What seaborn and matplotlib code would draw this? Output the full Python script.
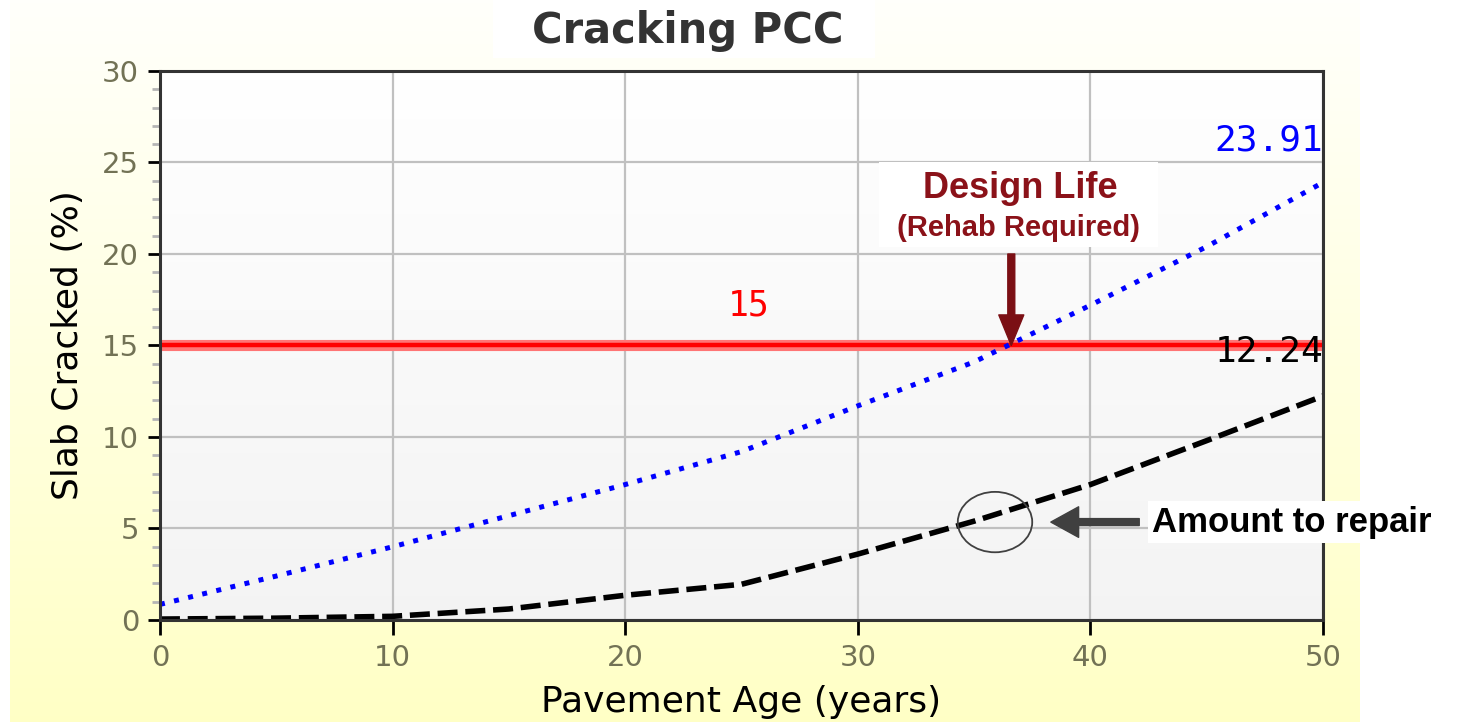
import numpy as np
import pandas as pd
import seaborn as sns
import matplotlib.pyplot as plt
from matplotlib.patches import Rectangle, Ellipse

# Dados
idade = [0, 5, 10, 15, 20, 25, 30, 35, 40, 45, 50]
trinca_confiab = [0.85, 2.4, 4.0, 5.7, 7.4, 9.2, 11.7, 14.1, 17.2, 20.4, 23.91]
trinca_media = [0.05, 0.1, 0.2, 0.6, 1.35, 1.95, 3.6, 5.4, 7.4, 9.8, 12.24]
limite = 15
vida_projeto = 36.6
reparo_idade = 35.9
reparo_valor = 5.35

df = pd.DataFrame({'idade': idade, 'confiab': trinca_confiab, 'media': trinca_media})

sns.set_style('white')
plt.rcParams['font.family'] = ['DejaVu Sans']

fig = plt.figure(figsize=(14.58, 7.22), dpi=100)

# fundo amarelo degradê
bg = fig.add_axes([0, 0, 1, 1], zorder=-10)
bg.axis('off')
grad = np.linspace(0, 1, 256)
cores = np.ones((256, 1, 3))
cores[:, 0, 2] = 0.985 - 0.21 * grad
bg.imshow(cores, extent=[10, 1360, 722, 0], aspect='auto')
bg.add_patch(Rectangle((493, 0), 382, 58, facecolor='white', edgecolor='none'))
bg.text(688, 31, 'Cracking PCC', ha='center', va='center', fontsize=30,
        fontweight='bold', color='#333333')
bg.set_xlim(0, 1458)
bg.set_ylim(722, 0)

ax = fig.add_axes([0.1097, 0.1413, 0.7977, 0.7604])
ax.set_facecolor('none')

# degradê da área do gráfico
g = np.linspace(1.0, 0.955, 256).reshape(-1, 1)
ax.imshow(np.dstack([g, g, g]), extent=[0, 50, 0, 30], aspect='auto', zorder=0)

ax.axhline(limite, color='#ff7575', lw=8, zorder=2)
ax.axhline(limite, color='#ff0000', lw=3.2, zorder=2.1)

sns.lineplot(data=df, x='idade', y='confiab', ax=ax, color='#0000ff', lw=3.6,
             linestyle=(0, (1, 1.9)), zorder=3)
sns.lineplot(data=df, x='idade', y='media', ax=ax, color='black', lw=4,
             linestyle=(0, (3.6, 1.4)), zorder=3)

ax.set_xlim(0, 50)
ax.set_ylim(0, 30)
ax.set_xticks(range(0, 51, 10))
ax.set_yticks(range(0, 31, 5))
ax.set_yticks(range(0, 31), minor=True)
ax.grid(True, which='major', color='#c0c0c0', lw=1.6, zorder=0.5)
ax.set_axisbelow(True)

for s in ax.spines.values():
    s.set_color('#333333')
    s.set_linewidth(2.2)
    s.set_zorder(5)

ax.tick_params(axis='both', which='major', direction='out', length=9, width=2,
               color='black', labelsize=21, labelcolor='#727255', pad=6)
ax.tick_params(axis='y', which='minor', direction='out', length=6, width=2,
               color='#b5b5b5')
ax.tick_params(axis='x', which='major', length=11, bottom=True)
ax.tick_params(axis='y', which='both', left=True)

ax.set_xlabel('Pavement Age (years)', fontsize=26, color='black', labelpad=10)
ax.set_ylabel('Slab Cracked (%)', fontsize=26, color='black', labelpad=12)

# rótulos dos valores
ax.text(25.3, 17.2, str(limite), color='#ff0000', fontsize=25,
        family='DejaVu Sans Mono', ha='center', va='center', zorder=6)
ax.text(50, 26.2, f'{trinca_confiab[-1]:.2f}', color='#0000ff', fontsize=26,
        family='DejaVu Sans Mono', ha='right', va='center', zorder=6)
ax.text(50, 14.65, f'{trinca_media[-1]:.2f}', color='black', fontsize=26,
        family='DejaVu Sans Mono', ha='right', va='center', zorder=6)

# anotação vida de projeto
ax.add_patch(Rectangle((30.9, 20.4), 12.0, 4.6, facecolor='white',
                       edgecolor='none', zorder=5.5))
ax.text(37.0, 23.6, 'Design Life', color='#8b1219', fontsize=26,
        fontweight='bold', family=['Liberation Sans', 'DejaVu Sans'],
        ha='center', va='center', zorder=6)
ax.text(36.9, 21.4, '(Rehab Required)', color='#8b1219', fontsize=21,
        fontweight='bold', family=['Liberation Sans', 'DejaVu Sans'],
        ha='center', va='center', zorder=7)
ax.annotate('', xy=(vida_projeto, limite), xytext=(vida_projeto, 20.0),
            arrowprops=dict(facecolor='#7b0f14', edgecolor='#7b0f14',
                            width=5, headwidth=18, headlength=22),
            zorder=7)

# anotação valor a reparar
ax.add_patch(Ellipse((reparo_idade, reparo_valor), 3.2, 3.3, fill=False,
                     edgecolor='#404040', lw=1.3, zorder=6))
ax.annotate('', xy=(38.3, reparo_valor), xytext=(42.1, reparo_valor),
            arrowprops=dict(facecolor='#404040', edgecolor='#404040',
                            width=5, headwidth=22, headlength=20),
            zorder=7)
ax.text(42.65, reparo_valor, 'Amount to repair', color='black', fontsize=25,
        fontweight='bold', family=['Liberation Sans', 'DejaVu Sans'],
        ha='left', va='center', zorder=7, clip_on=False,
        bbox=dict(facecolor='white', edgecolor='none', pad=3))

fig.savefig('out.png', dpi=100)
